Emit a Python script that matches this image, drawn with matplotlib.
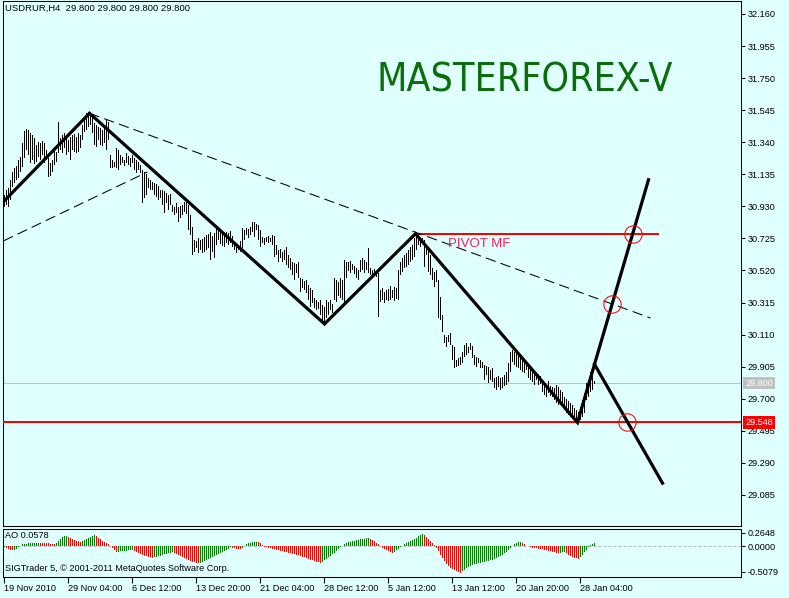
import os
import numpy as np
import matplotlib
matplotlib.use("Agg")
import matplotlib.pyplot as plt
from matplotlib import transforms, font_manager

plt.rcParams['font.family'] = ['Liberation Sans', 'DejaVu Sans']

BG = "#E0FFFF"
symbol_title = "USDRUR,H4  29.800 29.800 29.800 29.800"
brand = "MASTERFOREX-V"
pivot_label = "PIVOT MF"
ao_label = "AO 0.0578"
copyright_label = "SIGTrader 5, \u00a9 2001-2011 MetaQuotes Software Corp."

bar_high = [
    31.002, 31.034, 31.047, 31.098, 31.150, 31.175, 31.188, 31.226, 31.245, 31.335,
    31.412, 31.425, 31.418, 31.399, 31.386, 31.367, 31.322, 31.341, 31.335, 31.348,
    31.335, 31.290, 31.239, 31.207, 31.226, 31.290, 31.277, 31.470, 31.367, 31.386,
    31.399, 31.373, 31.354, 31.373, 31.386, 31.393, 31.373, 31.399, 31.386, 31.450,
    31.495, 31.527, 31.534, 31.521, 31.495, 31.463, 31.450, 31.437, 31.431, 31.418,
    31.431, 31.482, 31.470, 31.258, 31.226, 31.213, 31.303, 31.290, 31.258, 31.245,
    31.226, 31.271, 31.252, 31.239, 31.258, 31.239, 31.226, 31.213, 31.194, 31.162,
    31.150, 31.137, 31.111, 31.098, 31.085, 31.079, 31.073, 31.060, 31.034, 31.034,
    31.028, 31.015, 31.002, 31.009, 30.939, 30.926, 30.951, 30.926, 30.932, 30.939,
    30.958, 30.971, 30.939, 30.875, 30.798, 30.715, 30.709, 30.728, 30.715, 30.722,
    30.734, 30.747, 30.753, 30.766, 30.741, 30.760, 30.798, 30.779, 30.785, 30.773,
    30.760, 30.766, 30.760, 30.773, 30.741, 30.696, 30.690, 30.683, 30.709, 30.792,
    30.779, 30.792, 30.785, 30.798, 30.830, 30.830, 30.817, 30.811, 30.779, 30.734,
    30.728, 30.734, 30.741, 30.728, 30.747, 30.741, 30.683, 30.651, 30.658, 30.638,
    30.651, 30.670, 30.619, 30.600, 30.574, 30.568, 30.562, 30.574, 30.472, 30.466,
    30.453, 30.459, 30.427, 30.408, 30.395, 30.344, 30.331, 30.318, 30.331, 30.299,
    30.286, 30.331, 30.318, 30.331, 30.306, 30.472, 30.459, 30.446, 30.472, 30.459,
    30.587, 30.574, 30.574, 30.581, 30.562, 30.549, 30.536, 30.523, 30.587, 30.600,
    30.587, 30.574, 30.664, 30.536, 30.523, 30.530, 30.517, 30.504, 30.395, 30.408,
    30.382, 30.395, 30.402, 30.421, 30.395, 30.414, 30.408, 30.523, 30.574, 30.600,
    30.619, 30.632, 30.651, 30.670, 30.683, 30.728, 30.755, 30.741, 30.715, 30.728,
    30.715, 30.683, 30.664, 30.619, 30.536, 30.510, 30.523, 30.459, 30.350, 30.235,
    30.107, 30.094, 30.107, 30.120, 30.043, 30.030, 29.948, 29.960, 29.967, 29.999,
    30.043, 30.056, 30.030, 30.056, 30.037, 29.979, 29.967, 29.960, 29.948, 29.935,
    29.916, 29.909, 29.903, 29.884, 29.896, 29.832, 29.839, 29.845, 29.832, 29.839,
    29.852, 29.871, 29.928, 29.999, 30.011, 29.999, 29.986, 29.973, 29.967, 29.954,
    29.948, 29.935, 29.909, 29.896, 29.884, 29.877, 29.871, 29.858, 29.845, 29.820,
    29.800, 29.788, 29.813, 29.781, 29.775, 29.768, 29.788, 29.775, 29.756, 29.743,
    29.711, 29.698, 29.685, 29.672, 29.660, 29.641, 29.628, 29.615, 29.647, 29.692,
    29.736, 29.800, 29.820, 29.871, 29.884, 29.813,
]
bar_low = [
    30.926, 30.939, 30.926, 30.971, 31.053, 31.079, 31.098, 31.111, 31.150, 31.181,
    31.239, 31.290, 31.258, 31.207, 31.226, 31.201, 31.213, 31.245, 31.226, 31.258,
    31.207, 31.226, 31.117, 31.124, 31.150, 31.194, 31.213, 31.271, 31.290, 31.271,
    31.303, 31.258, 31.277, 31.226, 31.290, 31.277, 31.271, 31.277, 31.303, 31.354,
    31.405, 31.418, 31.437, 31.450, 31.399, 31.322, 31.309, 31.354, 31.322, 31.316,
    31.335, 31.290, 31.354, 31.175, 31.175, 31.181, 31.175, 31.162, 31.194, 31.207,
    31.188, 31.207, 31.194, 31.181, 31.207, 31.162, 31.143, 31.162, 31.143, 30.951,
    30.983, 31.002, 31.047, 31.034, 31.034, 31.002, 30.990, 30.971, 30.983, 30.939,
    30.887, 30.951, 30.907, 30.939, 30.894, 30.875, 30.887, 30.830, 30.855, 30.875,
    30.894, 30.881, 30.779, 30.747, 30.619, 30.638, 30.664, 30.632, 30.651, 30.632,
    30.638, 30.651, 30.664, 30.587, 30.638, 30.600, 30.683, 30.715, 30.690, 30.677,
    30.670, 30.696, 30.683, 30.696, 30.670, 30.651, 30.632, 30.651, 30.638, 30.664,
    30.715, 30.747, 30.728, 30.747, 30.766, 30.734, 30.779, 30.715, 30.670, 30.696,
    30.683, 30.702, 30.696, 30.702, 30.683, 30.606, 30.619, 30.574, 30.600, 30.574,
    30.587, 30.555, 30.536, 30.523, 30.491, 30.459, 30.504, 30.472, 30.382, 30.408,
    30.395, 30.376, 30.331, 30.286, 30.312, 30.280, 30.267, 30.274, 30.235, 30.190,
    30.178, 30.216, 30.235, 30.267, 30.248, 30.331, 30.318, 30.357, 30.344, 30.331,
    30.318, 30.472, 30.517, 30.504, 30.523, 30.498, 30.472, 30.459, 30.510, 30.523,
    30.504, 30.523, 30.504, 30.491, 30.485, 30.498, 30.478, 30.222, 30.318, 30.331,
    30.312, 30.331, 30.325, 30.331, 30.344, 30.325, 30.338, 30.331, 30.491, 30.510,
    30.536, 30.542, 30.555, 30.574, 30.587, 30.606, 30.651, 30.683, 30.670, 30.690,
    30.542, 30.619, 30.510, 30.491, 30.459, 30.414, 30.446, 30.216, 30.203, 30.126,
    30.056, 30.030, 30.062, 30.043, 29.948, 29.896, 29.903, 29.909, 29.916, 29.928,
    29.967, 29.979, 29.992, 30.011, 29.960, 29.916, 29.903, 29.928, 29.896, 29.896,
    29.820, 29.852, 29.800, 29.820, 29.807, 29.768, 29.756, 29.775, 29.756, 29.768,
    29.781, 29.788, 29.807, 29.871, 29.935, 29.916, 29.903, 29.896, 29.884, 29.871,
    29.864, 29.884, 29.832, 29.820, 29.807, 29.788, 29.820, 29.788, 29.794, 29.743,
    29.724, 29.711, 29.736, 29.717, 29.711, 29.692, 29.672, 29.660, 29.679, 29.660,
    29.628, 29.608, 29.596, 29.583, 29.577, 29.557, 29.548, 29.551, 29.564, 29.583,
    29.608, 29.692, 29.711, 29.743, 29.756, 29.794,
]
ao_values = [
    -0.02, -0.03, -0.05, -0.07, -0.08, -0.07, -0.05, -0.02, 0.01, 0.03,
    0.04, 0.045, 0.05, 0.05, 0.055, 0.055, 0.06, 0.06,
    0.058, 0.056, 0.054, 0.052, 0.05, 0.048, 0.045, 0.042, 0.06,
    0.10, 0.14, 0.17, 0.19, 0.20,
    0.18, 0.15, 0.13, 0.11, 0.10, 0.09, 0.08,
    0.10, 0.12, 0.14, 0.16, 0.18, 0.20, 0.21,
    0.19, 0.16, 0.13, 0.10, 0.07, 0.05, 0.03, 0.01,
    -0.04, -0.08, -0.12,
    -0.11, -0.10, -0.10, -0.09, -0.09, -0.08, -0.08, -0.07,
    -0.09, -0.11, -0.13, -0.15, -0.17, -0.19, -0.20, -0.21, -0.22, -0.23,
    -0.22, -0.21, -0.20, -0.19, -0.17, -0.16, -0.15, -0.14, -0.13, -0.12,
    -0.14, -0.16, -0.18, -0.20, -0.22, -0.24, -0.26, -0.28, -0.30, -0.31, -0.32, -0.33, -0.34,
    -0.33, -0.31, -0.29, -0.27, -0.25, -0.23, -0.21, -0.19, -0.17, -0.15, -0.13, -0.11, -0.09, -0.07, -0.05, -0.02,
    -0.03, -0.045, -0.055, -0.06, -0.065, -0.04,
    0.0, 0.03, 0.05, 0.06, 0.07, 0.08, 0.085,
    0.07, 0.05, 0.02, -0.01,
    -0.02, -0.03, -0.04, -0.05, -0.06, -0.07, -0.08, -0.09, -0.10, -0.11, -0.12, -0.13, -0.14, -0.15,
    -0.16, -0.17, -0.18, -0.20, -0.21, -0.22, -0.24, -0.25, -0.27, -0.28, -0.29, -0.31, -0.32, -0.33,
    -0.31, -0.28, -0.25, -0.22, -0.19, -0.16, -0.13, -0.10, -0.06, -0.02,
    0.01, 0.03, 0.05, 0.07, 0.08, 0.09, 0.10, 0.11, 0.12, 0.13, 0.14, 0.145, 0.15, 0.155,
    0.14, 0.12, 0.09, 0.06, 0.03, 0.0, -0.03, -0.06,
    -0.08, -0.10, -0.12, -0.13, -0.11, -0.08, -0.05, -0.02, 0.01,
    0.03, 0.05, 0.07, 0.09, 0.11, 0.13, 0.16, 0.19, 0.22, 0.24,
    0.22, 0.18, 0.14, 0.10, 0.06, 0.02,
    -0.04, -0.10, -0.17, -0.24, -0.30, -0.35, -0.40, -0.43, -0.46, -0.48, -0.50, -0.52, -0.53,
    -0.50, -0.47, -0.44, -0.41, -0.39, -0.37, -0.36, -0.35, -0.34, -0.33, -0.32, -0.31, -0.30,
    -0.29, -0.28, -0.27, -0.26, -0.24, -0.22, -0.20, -0.17, -0.14, -0.11, -0.07, -0.03,
    0.01, 0.03, 0.05, 0.07, 0.08, 0.06, 0.03, 0.005, 0.002,
    -0.02, -0.03, -0.035, -0.04, -0.05, -0.055, -0.06, -0.07, -0.08, -0.09, -0.10, -0.11, -0.12, -0.13, -0.14,
    -0.13, -0.12, -0.11,
    -0.14, -0.17, -0.19, -0.21, -0.23, -0.24, -0.25,
    -0.22, -0.17, -0.12, -0.07, -0.02, 0.02, 0.04, 0.0578,
]

price_ticks = [32.160, 31.955, 31.750, 31.545, 31.340, 31.135, 30.930, 30.725,
               30.520, 30.315, 30.110, 29.905, 29.700, 29.495, 29.290, 29.085]
ao_ticks = [0.2648, 0.0, -0.5079]
time_tick_bars = [0, 32, 64, 96, 128, 160, 192, 224, 256, 288]
time_tick_labels = ["19 Nov 2010", "29 Nov 04:00", "6 Dec 12:00", "13 Dec 20:00",
                    "21 Dec 04:00", "28 Dec 12:00", "5 Jan 12:00", "13 Jan 12:00",
                    "20 Jan 20:00", "28 Jan 04:00"]

zigzag_bar = [-0.5, 42.5, 160, 205.5, 286.5, 322]
zigzag_price = [30.96, 31.525, 30.178, 30.755, 29.548, 31.10]
proj_bar = [295, 329]
proj_price = [29.92, 29.16]
upper_dash_bar = [42.5, 323]
upper_dash_price = [31.525, 30.216]
lower_dash_bar = [-0.5, 71.5]
lower_dash_price = [30.709, 31.150]
pivot_bar = [205.5, 326.5]
pivot_price = 30.755
support_price = 29.548
last_price = 29.800
circle_bar = [314.1, 303.75, 311.25]
circle_price = [30.755, 30.306, 29.548]

W, H = 789, 598
fig = plt.figure(figsize=(W / 100, H / 100), dpi=100, facecolor=BG)


def fx(px):
    return px / W


def fy(py):
    return 1 - py / H


ax = fig.add_axes([fx(3), fy(526), fx(741) - fx(3), fy(1) - fy(526)])
ax2 = fig.add_axes([fx(3), fy(577), fx(741) - fx(3), fy(529) - fy(577)])
for a in (ax, ax2):
    a.set_facecolor(BG)
    for s in a.spines.values():
        s.set_linewidth(0.75)
        s.set_color("black")
    # bar centres fall on pixel centres (2 px per bar)
    a.set_xlim(-0.75, 368.25)

SMALL = 6.6
PX = 0.72  # one pixel in points

# ---------------- price panel ----------------
ax.set_ylim(28.886, 32.243)
hi = np.array(bar_high)
lo = np.array(bar_low)
xb = np.arange(len(hi))
# each H4 bar: a one-pixel-wide solid column from low to high
ax.bar(xb, hi - lo, bottom=lo, width=0.5, color="black", linewidth=0,
       antialiased=False, zorder=3)

ax.axhline(last_price, color="#C0C0C0", linewidth=PX, zorder=1)
ax.axhline(support_price, color="#FF0000", linewidth=2 * PX, zorder=4)
ax.plot(pivot_bar, [pivot_price, pivot_price], color="#FF0000", linewidth=2 * PX, zorder=4)

ax.plot(upper_dash_bar, upper_dash_price, color="black", linewidth=0.75, dashes=(10, 5), zorder=4)
ax.plot(lower_dash_bar, lower_dash_price, color="black", linewidth=0.75, dashes=(10, 5), zorder=4)
ax.plot(zigzag_bar, zigzag_price, color="black", linewidth=2.3, solid_joinstyle="miter", zorder=5)
ax.plot(proj_bar, proj_price, color="black", linewidth=2.3, zorder=5)
ax.plot(circle_bar, circle_price, linestyle="none", marker="o", markersize=12.5,
        markerfacecolor="none", markeredgecolor="#FF0000", markeredgewidth=0.75, zorder=6)

ax.text(222, 30.729, pivot_label, color="#F0205A", fontsize=9.5, ha="left", va="top", zorder=6)

ax.set_xticks([])
ax.yaxis.tick_right()
ax.set_yticks(price_ticks)
ax.set_yticklabels([f"{v:.3f}" for v in price_ticks])
ax.tick_params(axis="y", direction="out", length=3, width=0.75, pad=1.5,
               labelsize=SMALL, right=True, left=False)

trans = transforms.blended_transform_factory(ax.transAxes, ax.transData)
ax.text(1.0 + 4 / 738, last_price, f"{last_price:.3f}", transform=trans, ha="left", va="center",
        fontsize=SMALL, color="white", clip_on=False, zorder=10,
        bbox=dict(boxstyle="square,pad=0.2", fc="#C0C0C0", ec="none"))
ax.text(1.0 + 4 / 738, support_price, f"{support_price:.3f}", transform=trans, ha="left", va="center",
        fontsize=SMALL, color="white", clip_on=False, zorder=10,
        bbox=dict(boxstyle="square,pad=0.2", fc="#FF0000", ec="none"))

fig.text(fx(5), fy(4), symbol_title, ha="left", va="top", fontsize=6.8, color="black")

# brand label: prefer a slightly narrow sans face, then fit it to the reference width
prefs = ["liberationsansnarrow-regular", "arialnarrow", "notosans-semicondensed.",
         "dejavusanscondensed.", "notosans-condensed.", "robotocondensed-regular",
         "roboto_condensed-regular"]
files = [f.fname for f in font_manager.fontManager.ttflist]
brand_file = None
for p in prefs:
    for f in files:
        if p in os.path.basename(f).lower():
            brand_file = f
            break
    if brand_file:
        break
if brand_file:
    bprop = font_manager.FontProperties(fname=brand_file, size=29)
else:
    bprop = font_manager.FontProperties(family="Liberation Sans", size=29)
brand_txt = fig.text(fx(377), fy(92), brand, ha="left", va="baseline", color="#0A6E0A",
                     fontproperties=bprop)
fig.canvas.draw()
bw = brand_txt.get_window_extent().width
if bw > 0:
    brand_txt.set_fontsize(29 * 295.0 / bw)

# ---------------- AO panel ----------------
ax2.set_ylim(-0.614, 0.337)
ax2.axhline(0, color="#B8B8B8", linewidth=PX, dashes=(3, 2), zorder=1)
ao = np.array(ao_values)
xa = np.arange(len(ao))
ao_colors = ["#008000" if (k == 0 or ao[k] >= ao[k - 1]) else "#FF0000" for k in range(len(ao))]
ax2.bar(xa, ao, width=0.5, color=ao_colors, linewidth=0, antialiased=False, zorder=3)

ax2.yaxis.tick_right()
ax2.set_yticks(ao_ticks)
ax2.set_yticklabels([f"{v:.4f}" for v in ao_ticks])
ax2.tick_params(axis="y", direction="out", length=3, width=0.75, pad=1.5,
                labelsize=SMALL, right=True, left=False)
ax2.set_xticks([b - 0.25 for b in time_tick_bars])
ax2.set_xticklabels(time_tick_labels)
for lbl in ax2.get_xticklabels():
    lbl.set_horizontalalignment("left")
ax2.tick_params(axis="x", direction="out", length=4.3, width=0.75, pad=1, labelsize=SMALL)

fig.text(fx(5), fy(531), ao_label, ha="left", va="top", fontsize=SMALL, color="black")
fig.text(fx(5), fy(564), copyright_label, ha="left", va="top", fontsize=SMALL, color="black")

fig.savefig("out.png", dpi=100, facecolor=BG)
